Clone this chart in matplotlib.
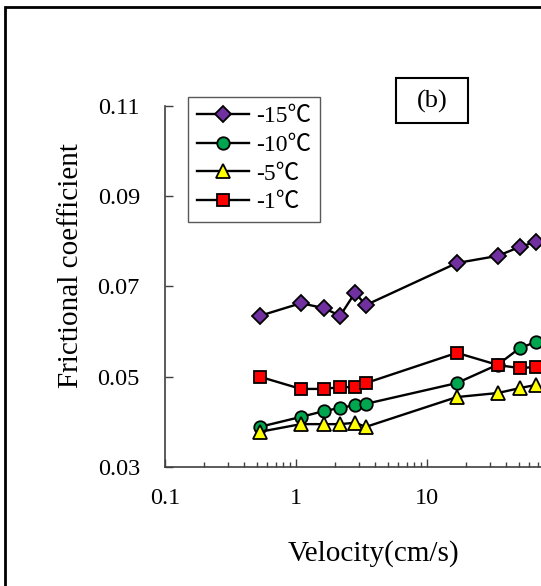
import matplotlib.pyplot as plt
from matplotlib.patches import Rectangle
from matplotlib.ticker import LogLocator, NullFormatter

plt.rcParams['font.family'] = ['Liberation Serif', 'Noto Sans CJK SC']

# 数据
velocity = [0.53, 1.09, 1.64, 2.17, 2.82, 3.42, 16.9, 34.8, 51.3, 68.0]
mu_m15 = [0.0635, 0.0663, 0.0652, 0.0635, 0.0686, 0.0659, 0.0752, 0.0768, 0.0788, 0.0799]
mu_m10 = [0.0389, 0.0411, 0.0424, 0.0431, 0.0437, 0.0440, 0.0486, 0.0527, 0.0564, 0.0577]
mu_m5 = [0.0378, 0.0395, 0.0395, 0.0395, 0.0398, 0.0389, 0.0455, 0.0464, 0.0475, 0.0482]
mu_m1 = [0.0500, 0.0473, 0.0473, 0.0477, 0.0477, 0.0486, 0.0553, 0.0526, 0.0519, 0.0522]

labels = ['-15℃', '-10℃', '-5℃', '-1℃']
y_ticks = [0.03, 0.05, 0.07, 0.09, 0.11]
x_ticks = [0.1, 1, 10, 100, 1000]
# 100 以后的标签在原图中被裁掉了
x_ticklabels = ['0.1', '1', '10', '', '']

W, H = 541, 586
fig = plt.figure(figsize=(W / 100, H / 100), dpi=100)

# 坐标轴 (右侧超出画面, 与原图一样被裁掉)
ax = fig.add_axes([165 / W, 119 / H, 4 * 131 / W, 361 / H])

series = [
    (mu_m15, 'D', '#7030A0', 8.0),
    (mu_m10, 'o', '#00A550', 9.0),
    (mu_m5, '^', '#FFFF00', 10.5),
    (mu_m1, 's', '#FF0000', 9.0),
]
for (vals, mk, col, ms), lab in zip(series, labels):
    ax.plot(velocity, vals, color='black', lw=1.7, marker=mk, ms=ms,
            mfc=col, mec='black', mew=1.3, label=lab)

ax.set_xscale('log')
ax.set_xlim(0.1, 1000)
ax.set_ylim(0.03, 0.11)
ax.set_xticks(x_ticks)
ax.set_xticklabels(x_ticklabels)
ax.xaxis.set_minor_locator(LogLocator(base=10, subs=range(2, 10)))
ax.xaxis.set_minor_formatter(NullFormatter())
ax.set_yticks(y_ticks)
ax.set_yticklabels(['%.2f' % v for v in y_ticks])

for s in ['top', 'right']:
    ax.spines[s].set_visible(False)
for s in ['left', 'bottom']:
    ax.spines[s].set_color('#404040')
    ax.spines[s].set_linewidth(1.2)

ax.tick_params(axis='y', which='major', direction='in', length=6, width=1,
               color='#404040', labelsize=17.5, pad=18)
ax.tick_params(axis='x', which='major', direction='in', length=6, width=1,
               color='#404040', labelsize=17.5, pad=15)
ax.tick_params(axis='x', which='minor', direction='in', length=3.5, width=1,
               color='#404040')

leg = ax.legend(loc='upper left', bbox_to_anchor=(188 / W, 1 - 97 / H),
                bbox_transform=fig.transFigure, borderaxespad=0,
                fontsize=17, frameon=True, fancybox=False, shadow=False,
                handlelength=2.2, handletextpad=0.3, labelspacing=0.3,
                borderpad=0.38)
leg.get_frame().set_edgecolor('#303030')
leg.get_frame().set_linewidth(1.0)

# 轴标题
fig.text(71 / W, 1 - 266 / H, 'Frictional coefficient', rotation=90,
         ha='center', va='center', fontsize=21)
fig.text(373 / W, 1 - 554 / H, 'Velocity(cm/s)', ha='center', va='center',
         fontsize=21)

# (b) 标签框
fig.add_artist(Rectangle((396 / W, 1 - 123 / H), 72 / W, 45 / H,
                         transform=fig.transFigure, fill=False,
                         ec='black', lw=1.5))
fig.text(432 / W, 1 - 101 / H, '(b)', ha='center', va='center', fontsize=19)

# 外框
fig.add_artist(Rectangle((5 / W, -0.1), 2.0, 1.1 - 7 / H,
                         transform=fig.transFigure, fill=False,
                         ec='black', lw=2))

fig.savefig('out.png', dpi=100)
